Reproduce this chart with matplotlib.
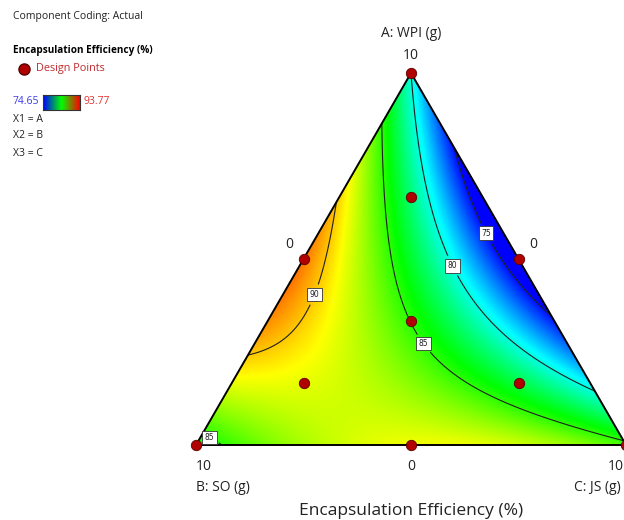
import numpy as np
import matplotlib
matplotlib.use("Agg")
import matplotlib.pyplot as plt
from matplotlib.colors import LinearSegmentedColormap
from matplotlib.patches import Polygon

# mixture model in pseudo components
linear_coefs = [80.0, 84.0, 85.5]  # A, B, C
blend_coefs = [38.0, -38.0, 16.0]  # AB, AC, BC
levels = [75, 80, 85, 90]
resp_min, resp_max = 74.65, 93.77

# design points (fractions of A, B, C)
design_a = [1, 0, 0, 0.5, 0.5, 0, 1 / 3, 2 / 3, 1 / 6, 1 / 6]
design_b = [0, 1, 0, 0.5, 0, 0.5, 1 / 3, 1 / 6, 2 / 3, 1 / 6]
design_c = [0, 0, 1, 0, 0.5, 0.5, 1 / 3, 1 / 6, 1 / 6, 2 / 3]

H = np.sqrt(3) / 2


def to_xy(a, b, c):
    a = np.asarray(a, dtype=float)
    c = np.asarray(c, dtype=float)
    return c + a / 2, a * H


def model(a, b, c):
    b1, b2, b3 = linear_coefs
    b12, b13, b23 = blend_coefs
    return b1 * a + b2 * b + b3 * c + b12 * a * b + b13 * a * c + b23 * b * c


W, Hpx = 624, 520
fig = plt.figure(figsize=(W / 100, Hpx / 100), dpi=100)
ax = fig.add_axes([196 / W, 75 / Hpx, 430 / W, 372 / Hpx])
ax.set_xlim(0, 1)
ax.set_ylim(0, H)
ax.axis("off")

cmap = LinearSegmentedColormap.from_list(
    "de", ["#0000ff", "#00ffff", "#00ff00", "#ffff00", "#ff0000"]
)

xs = np.linspace(0, 1, 500)
ys = np.linspace(0, H, 440)
X, Y = np.meshgrid(xs, ys)
A = Y / H
C = X - A / 2
B = 1 - A - C
Z = model(A, B, C)

tri = Polygon([[0, 0], [1, 0], [0.5, H]], closed=True, facecolor="none",
              edgecolor="black", linewidth=1.4, zorder=4, clip_on=False)
ax.add_patch(tri)

im = ax.imshow(Z, extent=[0, 1, 0, H], origin="lower", cmap=cmap,
               vmin=resp_min, vmax=resp_max, interpolation="bilinear",
               aspect="auto", zorder=1)
im.set_clip_path(tri)

cs = ax.contour(X, Y, Z, levels=levels, colors="#202020", linewidths=0.8, zorder=2)
cs.set_clip_path(tri)

label_pos = [(0.677, 0.494), (0.60, 0.419), (0.5395, 0.244), (0.2907, 0.344), (0.037, 0.028)]
labels = ax.clabel(cs, fmt="%d", fontsize=5.5, manual=label_pos, inline=True, inline_spacing=6)
for t in labels:
    t.set_rotation(0)
    t.set_bbox(dict(boxstyle="square,pad=0.3", facecolor="white",
                    edgecolor="#333333", linewidth=0.6))
    t.set_zorder(5)

dx, dy = to_xy(design_a, design_b, design_c)
ax.plot(dx, dy, "o", color="#b00000", markeredgecolor="#5a0000",
        markersize=7.5, markeredgewidth=0.6, clip_on=False, zorder=6)

font = "Open Sans"
tc = "#222222"
ax.text(0.5, 0.957, "A: WPI (g)", ha="center", va="center", fontsize=10, family=font, color=tc)
ax.text(0.5, 0.906, "10", ha="center", va="center", fontsize=10, family=font, color=tc)
ax.text(0.216, 0.466, "0", ha="center", va="center", fontsize=10, family=font, color=tc)
ax.text(0.784, 0.466, "0", ha="center", va="center", fontsize=10, family=font, color=tc)
ax.text(0.0, -0.049, "10", ha="left", va="center", fontsize=10, family=font, color=tc)
ax.text(0.5, -0.049, "0", ha="center", va="center", fontsize=10, family=font, color=tc)
ax.text(0.995, -0.049, "10", ha="right", va="center", fontsize=10, family=font, color=tc)
ax.text(0.0, -0.098, "B: SO (g)", ha="left", va="center", fontsize=10, family=font, color=tc)
ax.text(0.879, -0.098, "C: JS (g)", ha="left", va="center", fontsize=10, family=font, color=tc)
ax.text(0.5, -0.154, "Encapsulation Efficiency (%)", ha="center", va="center",
        fontsize=12.5, family=font, color=tc)


# legend block (top left)
def ftext(px, py, s, **kw):
    fig.text(px / W, 1 - py / Hpx, s, va="center", family=font, **kw)


ftext(13, 17, "Component Coding: Actual", fontsize=7.5, color=tc)
ftext(13, 51, "Encapsulation Efficiency (%)", fontsize=7.2, color="black", weight="bold")
ftext(36, 69, "Design Points", fontsize=7.8, color="#c0282d")
ftext(13, 102, "74.65", fontsize=7.5, color="#3a3af0")
ftext(84, 102, "93.77", fontsize=7.5, color="#e03030")
ftext(13, 119, "X1 = A", fontsize=7.5, color=tc)
ftext(13, 136, "X2 = B", fontsize=7.5, color=tc)
ftext(13, 153, "X3 = C", fontsize=7.5, color=tc)

fig.lines.append(plt.Line2D([24 / W], [1 - 69 / Hpx], marker="o", color="#b00000",
                            markeredgecolor="#5a0000", markersize=8, transform=fig.transFigure))

cax = fig.add_axes([43 / W, 1 - 110 / Hpx, 37 / W, 15 / Hpx])
bar_cmap = LinearSegmentedColormap.from_list("bar", ["#0000ff", "#00ff00", "#ff0000"])
cax.imshow(np.linspace(0, 1, 100)[None, :], cmap=bar_cmap, aspect="auto")
cax.set_xticks([])
cax.set_yticks([])
for s in cax.spines.values():
    s.set_linewidth(0.8)
    s.set_color("#333333")

fig.savefig("out.png", dpi=100, facecolor="white")
